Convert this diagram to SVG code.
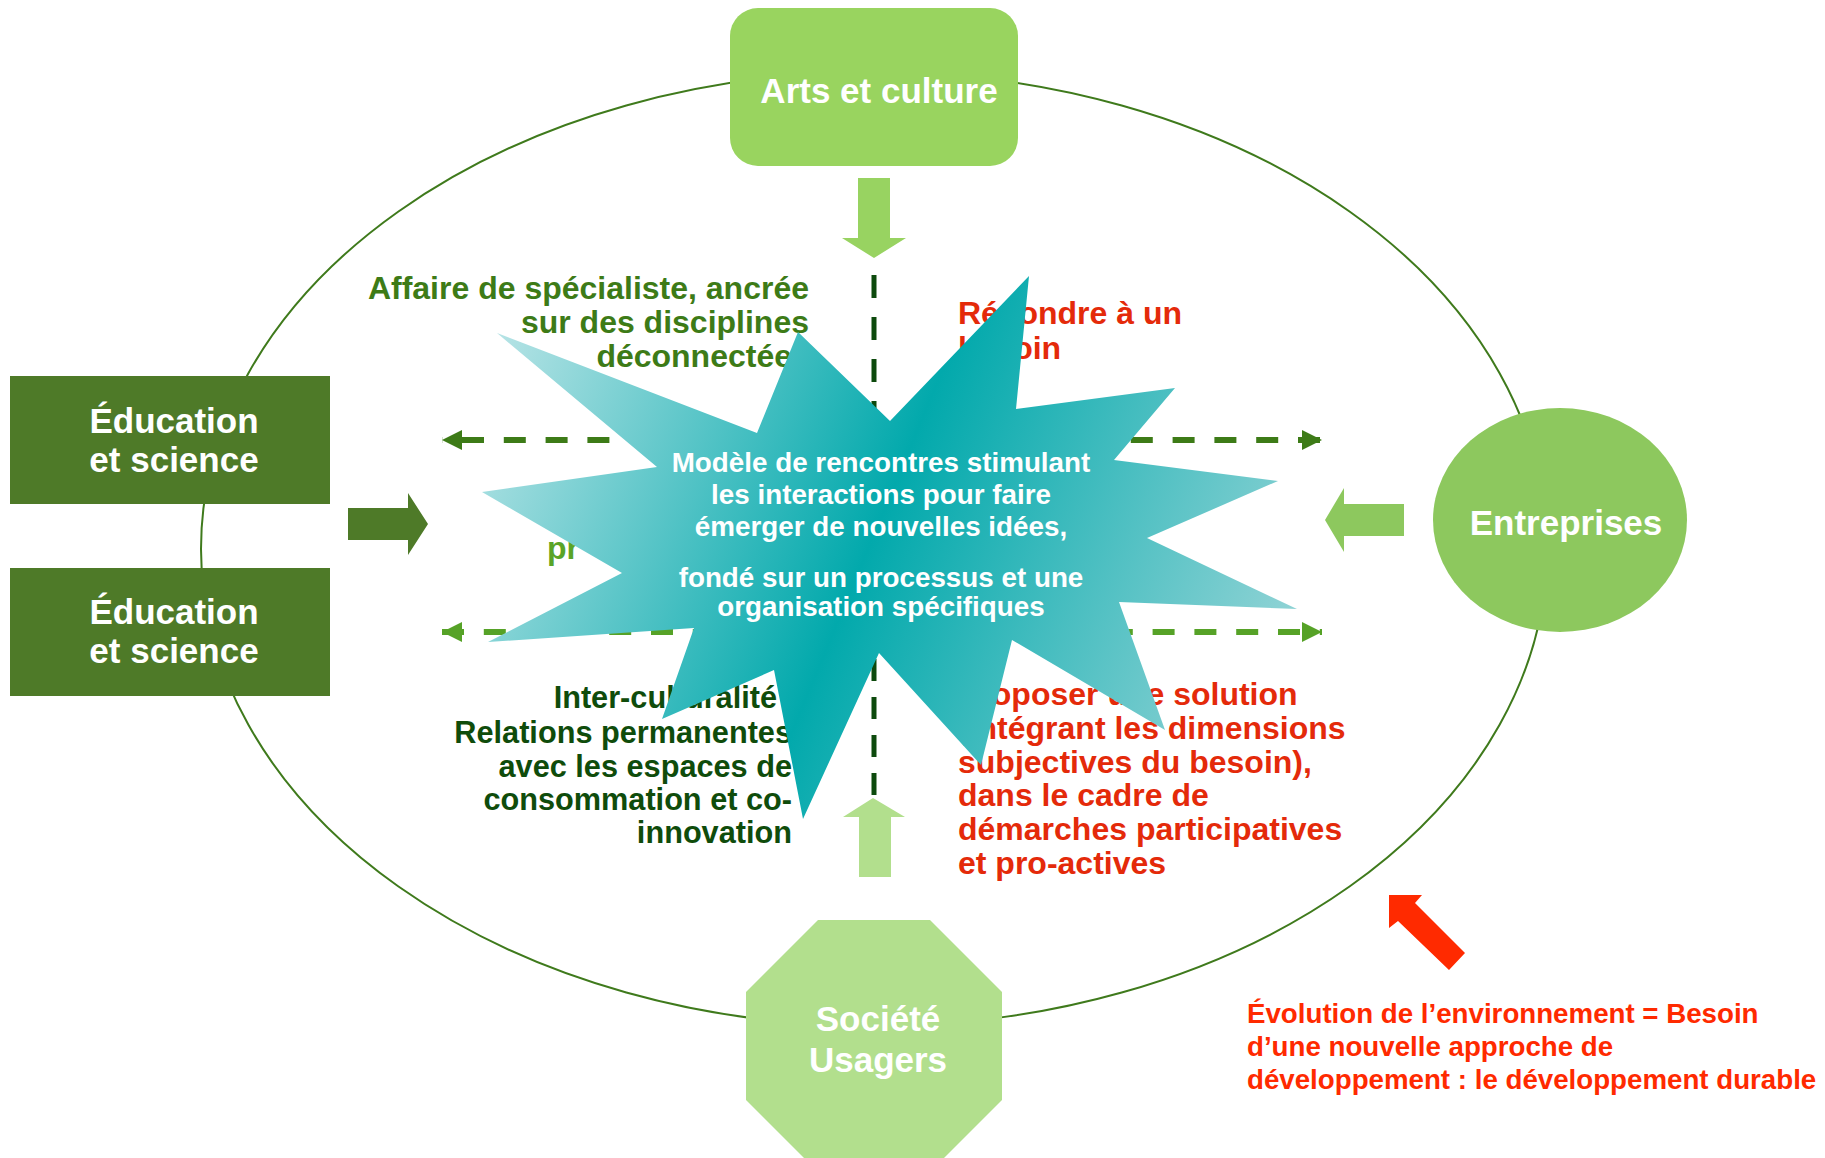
<svg xmlns="http://www.w3.org/2000/svg" width="1825" height="1158" viewBox="0 0 1825 1158">
<style>
text{font-family:"Liberation Sans",Arial,sans-serif;font-weight:bold}
.white{fill:#ffffff}
.nodeLbl{font-size:35px;text-anchor:middle}
.starTxt{font-size:27.8px;text-anchor:middle;fill:#ffffff}
.gTop{font-size:32px;fill:#3D7B17;text-anchor:end}
.gDark{font-size:30.7px;fill:#0F4C0B;text-anchor:end}
.red{font-size:32px;fill:#E42A0A}
.redB{font-size:27.7px;fill:#FF2A00}
.dash{fill:none;stroke-width:6}
</style>
<defs>
<marker id="headDark" markerUnits="userSpaceOnUse" markerWidth="20" markerHeight="20" refX="20" refY="10" orient="auto-start-reverse"><path d="M0,0 L20,10 L0,20 z" fill="#3D7B17"/></marker>
<marker id="headLight" markerUnits="userSpaceOnUse" markerWidth="20" markerHeight="20" refX="20" refY="10" orient="auto-start-reverse"><path d="M0,0 L20,10 L0,20 z" fill="#56A227"/></marker>
<linearGradient id="starGrad" gradientUnits="userSpaceOnUse" x1="483" y1="355" x2="1277" y2="685">
<stop offset="0" stop-color="#B8E4E6"/>
<stop offset="0.5" stop-color="#02A9AC"/>
<stop offset="1" stop-color="#93D4D6"/>
</linearGradient>
</defs>
<rect width="1825" height="1158" fill="#ffffff"/>
<ellipse cx="874" cy="549" rx="673" ry="477" fill="none" stroke="#3F7A1C" stroke-width="2"/>
<g id="connectors">
<line x1="874" y1="275" x2="874" y2="470" stroke="#0D4A0D" stroke-width="5" stroke-dasharray="23 19"/>
<line x1="874" y1="659" x2="874" y2="798" stroke="#0D4A0D" stroke-width="5" stroke-dasharray="22 16"/>
<line class="dash" x1="442" y1="440" x2="1322" y2="440" stroke="#3D7B17" stroke-dasharray="22 19.8" stroke-dashoffset="-20" marker-start="url(#headDark)" marker-end="url(#headDark)"/>
<line class="dash" x1="442" y1="632" x2="1322" y2="632" stroke="#56A227" stroke-dasharray="22 19.8" stroke-dashoffset="0" marker-start="url(#headLight)" marker-end="url(#headLight)"/>
<polygon id="arrow-arts" points="858,178 890,178 890,238 906,238 874,258 842,238 858,238" fill="#98D361"/>
<polygon id="arrow-societe" points="859,877 891,877 891,817 905,817 873,798 843,817 859,817" fill="#B2DF8D"/>
<polygon id="arrow-education" points="348,508 408,508 408,493 428,524 408,555 408,540 348,540" fill="#4E7A28"/>
<polygon id="arrow-entreprises" points="1404,504 1344,504 1344,488 1325,520 1344,552 1344,536 1404,536" fill="#8DC85E"/>
<polygon id="arrow-evolution" points="1389,895 1422,895 1415,903 1465,953 1449,970 1398,921 1389,928" fill="#FF2A00"/>
</g>
<g id="quadrant-texts">
<text class="gTop"><tspan x="809" y="299">Affaire de spécialiste, ancrée</tspan><tspan x="809" y="333">sur des disciplines</tspan><tspan x="792" y="367">déconnectée</tspan></text>
<text class="red"><tspan x="958" y="324">Répondre à un</tspan><tspan x="958" y="359">besoin</tspan></text>
<text x="547" y="559" style="font-size:32px;fill:#5AA427">pr</text>
<text class="gDark"><tspan x="777" y="708">Inter-culturalité</tspan><tspan x="792" y="743">Relations permanentes</tspan><tspan x="792" y="777">avec les espaces de</tspan><tspan x="792" y="810">consommation et co-</tspan><tspan x="792" y="843">innovation</tspan></text>
<text class="red"><tspan x="958" y="705">Proposer une solution</tspan><tspan x="958" y="739">(intégrant les dimensions</tspan><tspan x="958" y="773">subjectives du besoin),</tspan><tspan x="958" y="806">dans le cadre de</tspan><tspan x="958" y="840">démarches participatives</tspan><tspan x="958" y="874">et pro-actives</tspan></text>
</g>
<g id="star">
<polygon points="1029,276 1016,409 1175,388 1114,460 1278,481 1147,538 1297,609 1119,602 1165,730 1012,640 981,765 879,653 803,819 774,670 662,719 694,628 488,642 622,573 482,492 657,467 497,333 757,433 798,332 890,421" fill="url(#starGrad)"/>
<text class="starTxt"><tspan x="881" y="472">Modèle de rencontres stimulant</tspan><tspan x="881" y="504">les interactions pour faire</tspan><tspan x="881" y="536">émerger de nouvelles idées,</tspan><tspan x="881" y="587">fondé sur un processus et une</tspan><tspan x="881" y="616">organisation spécifiques</tspan></text>
</g>
<g id="node-arts">
<rect x="730" y="8" width="288" height="158" rx="28" fill="#99D45F"/>
<text class="nodeLbl white" x="879" y="103">Arts et culture</text>
</g>
<g id="node-education-1">
<rect x="10" y="376" width="320" height="128" fill="#4E7A28"/>
<text class="nodeLbl white"><tspan x="174" y="433">Éducation</tspan><tspan x="174" y="472">et science</tspan></text>
</g>
<g id="node-education-2">
<rect x="10" y="568" width="320" height="128" fill="#4E7A28"/>
<text class="nodeLbl white"><tspan x="174" y="624">Éducation</tspan><tspan x="174" y="663">et science</tspan></text>
</g>
<g id="node-entreprises">
<ellipse cx="1560" cy="520" rx="127" ry="112" fill="#8DC85E"/>
<text class="nodeLbl white" x="1566" y="535">Entreprises</text>
</g>
<g id="node-societe">
<polygon points="818,920 930,920 1002,992 1002,1100 930,1172 818,1172 746,1100 746,992" fill="#B2DF8D"/>
<text class="nodeLbl white"><tspan x="878" y="1031">Société</tspan><tspan x="878" y="1072">Usagers</tspan></text>
</g>
<g id="note-evolution">
<text class="redB"><tspan x="1247" y="1023">Évolution de l’environnement = Besoin</tspan><tspan x="1247" y="1056">d’une nouvelle approche de</tspan><tspan x="1247" y="1089">développement : le développement durable</tspan></text>
</g>
</svg>
